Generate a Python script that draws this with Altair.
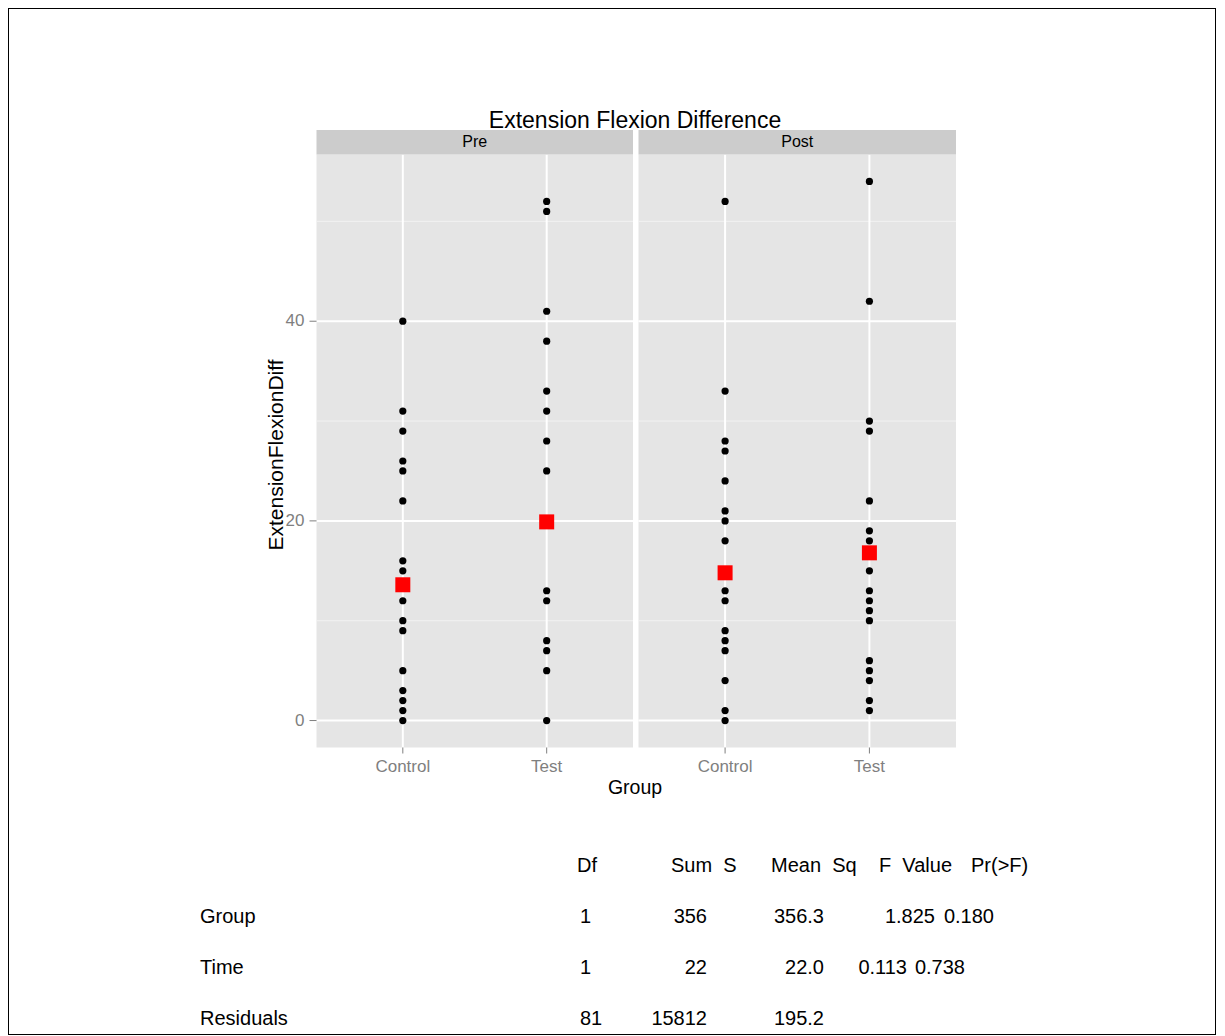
import altair as alt
import pandas as pd

# ---------------- data ----------------
groups = ["Control", "Test"]
times = ["Pre", "Post"]

pre_control = [40, 31, 29, 26, 25, 22, 16, 15, 12, 10, 9, 5, 3, 2, 1, 0]
pre_test = [52, 51, 41, 38, 33, 31, 28, 25, 13, 12, 8, 7, 5, 0]
post_control = [52, 33, 28, 27, 24, 21, 20, 18, 13, 12, 9, 8, 7, 4, 1, 0]
post_test = [54, 42, 30, 29, 22, 19, 18, 15, 13, 12, 11, 10, 6, 5, 4, 2, 1]

mean_pre = [13.6, 19.9]    # Control, Test
mean_post = [14.8, 16.8]   # Control, Test

y_major = [0, 20, 40]
y_minor = [10, 30, 50]

title_text = "Extension Flexion Difference"
y_title = "ExtensionFlexionDiff"
x_title = "Group"

table_header = ["Df", "Sum\u00a0\u00a0S", "Mean\u00a0\u00a0Sq", "F\u00a0\u00a0Value", "Pr(>F)"]
row_names = ["Group", "Time", "Residuals"]
col_df = ["1", "1", "81"]
col_sum = ["356", "22", "15812"]
col_mean = ["356.3", "22.0", "195.2"]
col_f = ["1.825", "0.113"]
col_p = ["0.180", "0.738"]

# ---------------- layout / style ----------------
FONT = "Liberation Sans"
W, H = 1208, 1027
PANEL_TOP, PANEL_BOTTOM = 146.5, 739.5
STRIP_TOP = 122
PANEL_X = {"Pre": (308.5, 625.0), "Post": (630.5, 948.0)}
Y_DOMAIN = [-2.7, 56.7]
GREY_TXT = "#7F7F7F"
TICK_FONT = 17


def panel(time, control_vals, test_vals, means, show_y):
    x0, x1 = PANEL_X[time]
    xs = alt.Scale(type="point", domain=groups, range=[x0, x1], padding=0.6)
    ys = alt.Scale(domain=Y_DOMAIN, range=[PANEL_BOTTOM, PANEL_TOP], nice=False, zero=False)
    one = pd.DataFrame({"k": [0]})

    pts_df = pd.DataFrame({
        "Group": ["Control"] * len(control_vals) + ["Test"] * len(test_vals),
        "value": control_vals + test_vals,
    })
    mean_df = pd.DataFrame({"Group": groups, "value": means})
    grp_df = pd.DataFrame({"g": groups})

    bg = alt.Chart(one).mark_rect(color="#E5E5E5").encode(
        x=alt.value(x0), x2=alt.value(x1), y=alt.value(PANEL_TOP), y2=alt.value(PANEL_BOTTOM))
    minor = alt.Chart(pd.DataFrame({"v": y_minor})).mark_rule(color="#F2F2F2", strokeWidth=1).encode(
        y=alt.Y("v:Q", scale=ys, axis=None), x=alt.value(x0), x2=alt.value(x1))
    major = alt.Chart(pd.DataFrame({"v": y_major})).mark_rule(color="white", strokeWidth=2).encode(
        y=alt.Y("v:Q", scale=ys, axis=None), x=alt.value(x0), x2=alt.value(x1))
    vgrid = alt.Chart(grp_df).mark_rule(color="white", strokeWidth=2).encode(
        x=alt.X("g:N", scale=xs, axis=None), y=alt.value(PANEL_TOP), y2=alt.value(PANEL_BOTTOM))
    # x axis ticks and labels (drawn through the x scale)
    xticks = alt.Chart(grp_df).mark_rule(color=GREY_TXT, strokeWidth=1).encode(
        x=alt.X("g:N", scale=xs, axis=None), y=alt.value(PANEL_BOTTOM), y2=alt.value(PANEL_BOTTOM + 6))
    xlabels = alt.Chart(grp_df).mark_text(font=FONT, fontSize=TICK_FONT, color=GREY_TXT,
                                          baseline="middle").encode(
        x=alt.X("g:N", scale=xs, axis=None), y=alt.value(PANEL_BOTTOM + 19), text="g:N")
    pts = alt.Chart(pts_df).mark_circle(size=52, color="black", opacity=1).encode(
        x=alt.X("Group:N", scale=xs, axis=None),
        y=alt.Y("value:Q", scale=ys, axis=None))
    mean = alt.Chart(mean_df).mark_square(size=225, color="#FF0000", opacity=1).encode(
        x=alt.X("Group:N", scale=xs, axis=None),
        y=alt.Y("value:Q", scale=ys, axis=None))
    strip = alt.Chart(one).mark_rect(color="#CCCCCC").encode(
        x=alt.value(x0), x2=alt.value(x1), y=alt.value(STRIP_TOP), y2=alt.value(PANEL_TOP))
    strip_txt = alt.Chart(pd.DataFrame({"t": [time]})).mark_text(
        font=FONT, fontSize=16, color="black").encode(
        text="t:N", x=alt.value((x0 + x1) / 2), y=alt.value((STRIP_TOP + PANEL_TOP) / 2))
    layers = [bg, minor, major, vgrid, xticks, xlabels, pts, mean, strip, strip_txt]
    if show_y:
        ydf = pd.DataFrame({"v": y_major})
        yticks = alt.Chart(ydf).mark_rule(color=GREY_TXT, strokeWidth=1).encode(
            y=alt.Y("v:Q", scale=ys, axis=None), x=alt.value(x0 - 7), x2=alt.value(x0))
        ylabels = alt.Chart(ydf).mark_text(font=FONT, fontSize=TICK_FONT, color=GREY_TXT,
                                           align="right", baseline="middle").encode(
            y=alt.Y("v:Q", scale=ys, axis=None), x=alt.value(x0 - 12), text="v:Q")
        layers += [yticks, ylabels]
    return alt.layer(*layers)


def label(text, x, y, size, align="center", angle=0):
    return alt.Chart(pd.DataFrame({"t": [text]})).mark_text(
        font=FONT, fontSize=size, color="black", align=align, angle=angle, baseline="middle"
    ).encode(text="t:N", x=alt.value(x), y=alt.value(y))


ROW_Y = [909, 960, 1011]
TBL_SIZE = 20


def column(values, x, align):
    df = pd.DataFrame({"t": values, "r": list(range(len(values)))})
    return alt.Chart(df).mark_text(font=FONT, fontSize=TBL_SIZE, color="black", align=align,
                                   baseline="middle").encode(
        text="t:N",
        x=alt.value(x),
        y=alt.Y("r:Q", scale=alt.Scale(domain=[0, 2], range=[ROW_Y[0], ROW_Y[2]]), axis=None))


pre = panel("Pre", pre_control, pre_test, mean_pre, True)
post = panel("Post", post_control, post_test, mean_post, False)

header_x = [569, 663, 763, 871, 963]
header_layers = [label(h, hx, 858, TBL_SIZE, align="left") for h, hx in zip(table_header, header_x)]

# the F / Pr cells sit at slightly different places in each row of the original
F_RIGHT = [927, 899]
P_RIGHT = [986, 957]
f_layers = [label(v, xr, ROW_Y[i], TBL_SIZE, align="right") for i, (v, xr) in enumerate(zip(col_f, F_RIGHT))]
p_layers = [label(v, xr, ROW_Y[i], TBL_SIZE, align="right") for i, (v, xr) in enumerate(zip(col_p, P_RIGHT))]

annots = [
    label(title_text, 627, 113, 23),
    label(y_title, 269, 447, 21, angle=270),
    label(x_title, 627, 780, 19.5),
    *header_layers,
    column(row_names, 192, "left"),
    column(col_df, 572, "left"),
    column(col_sum, 699, "right"),
    column(col_mean, 816, "right"),
    *f_layers,
    *p_layers,
]

chart = alt.layer(pre, post, *annots).resolve_scale(
    x="independent", y="independent"
).properties(
    width=W, height=H, padding=0, autosize=alt.AutoSizeParams(type="none")
).configure_view(stroke="black", strokeWidth=2)

chart.save("out.html", embed_options={"renderer": "svg", "actions": False})
